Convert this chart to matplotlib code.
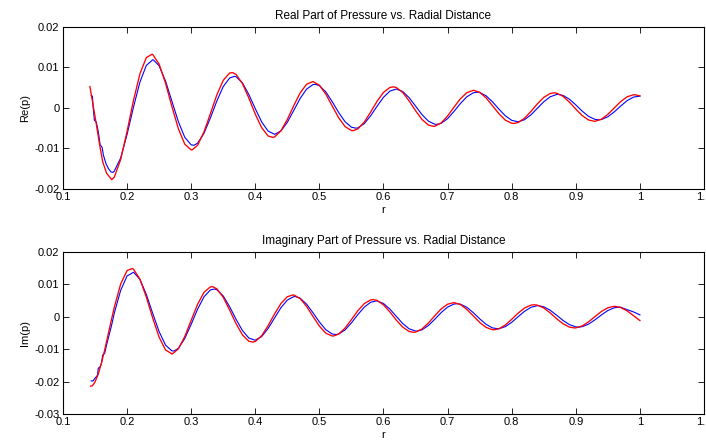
import matplotlib
matplotlib.use('Agg')
import matplotlib.pyplot as plt

plt.rcParams['font.family'] = ['Liberation Sans', 'DejaVu Sans']
plt.rcParams['axes.unicode_minus'] = False

# common radial grid used past the near field
r_grid = [0.18, 0.19, 0.20, 0.21, 0.22, 0.23, 0.24, 0.25, 0.26, 0.27,
          0.28, 0.29, 0.30, 0.31, 0.32, 0.33, 0.34, 0.35, 0.36, 0.37,
          0.38, 0.39, 0.40, 0.41, 0.42, 0.43, 0.44, 0.45, 0.46, 0.47,
          0.48, 0.49, 0.50, 0.51, 0.52, 0.53, 0.54, 0.55, 0.56, 0.57,
          0.58, 0.59, 0.60, 0.61, 0.62, 0.63, 0.64, 0.65, 0.66, 0.67,
          0.68, 0.69, 0.70, 0.71, 0.72, 0.73, 0.74, 0.75, 0.76, 0.77,
          0.78, 0.79, 0.80, 0.81, 0.82, 0.83, 0.84, 0.85, 0.86, 0.87,
          0.88, 0.89, 0.90, 0.91, 0.92, 0.93, 0.94, 0.95, 0.96, 0.97,
          0.98, 0.99, 1.00]

# exact solution (red)
r_exact_re = [0.142, 0.147, 0.152, 0.157, 0.162, 0.168, 0.176] + r_grid
re_exact = [0.0053, 0.0007, -0.0040, -0.0089, -0.0133, -0.0161, -0.0177,
            -0.01709, -0.01271, -0.00577, 0.00188, 0.00842, 0.01243, 0.01321, 0.01084, 0.00611, 0.00032,
            -0.00512, -0.00894, -0.01036, -0.00920, -0.00590, -0.00138, 0.00323, 0.00683, 0.00863, 0.00829,
            0.00601, 0.00244, -0.00152, -0.00489, -0.00691, -0.00716, -0.00565, -0.00282, 0.00058, 0.00372,
            0.00586, 0.00653, 0.00562, 0.00342, 0.00051, -0.00239, -0.00459, -0.00557, -0.00516, -0.00348,
            -0.00100, 0.00166, 0.00385, 0.00507, 0.00505, 0.00383, 0.00175, -0.00067, -0.00282, -0.00421,
            -0.00451, -0.00369, -0.00198, 0.00019, 0.00228, 0.00378, 0.00435, 0.00388, 0.00250, 0.00057,
            -0.00142, -0.00299, -0.00377, -0.00360, -0.00253, -0.00085, 0.00102, 0.00262, 0.00357, 0.00366,
            0.00289, 0.00145, -0.00028, -0.00188, -0.00297, -0.00328, -0.00277, -0.00157, 0.00001, 0.00158,
            0.00276, 0.00327, 0.00300]
# peaks and troughs of the exact real part
r_exact_re_pk = [0.239, 0.3017, 0.3645, 0.4272, 0.4900, 0.5527, 0.6154,
                 0.6782, 0.7409, 0.8037, 0.8664, 0.9292, 0.9919]
re_exact_pk = [0.01328, -0.01034, 0.00874, -0.00727, 0.00653, -0.00560, 0.00522,
               -0.00454, 0.00435, -0.00382, 0.00374, -0.00329, 0.00328]

r_exact_im = [0.143, 0.147, 0.150, 0.155, 0.160, 0.165, 0.170, 0.175] + r_grid
im_exact = [-0.0214, -0.0210, -0.0201, -0.0177, -0.0143, -0.0103, -0.0059, -0.0014,
            0.00289, 0.01012, 0.01427, 0.01469, 0.01162, 0.00610, -0.00041, -0.00630, -0.01024, -0.01147,
            -0.00990, -0.00610, -0.00109, 0.00385, 0.00756, 0.00925, 0.00864, 0.00600, 0.00208, -0.00213,
            -0.00560, -0.00756, -0.00761, -0.00584, -0.00274, 0.00086, 0.00410, 0.00620, 0.00673, 0.00562,
            0.00320, 0.00011, -0.00288, -0.00506, -0.00594, -0.00535, -0.00350, -0.00087, 0.00188, 0.00407,
            0.00521, 0.00505, 0.00368, 0.00147, -0.00103, -0.00320, -0.00453, -0.00472, -0.00377, -0.00193,
            0.00032, 0.00243, 0.00389, 0.00437, 0.00377, 0.00228, 0.00028, -0.00174, -0.00328, -0.00399,
            -0.00371, -0.00254, -0.00078, 0.00112, 0.00271, 0.00360, 0.00359, 0.00272, 0.00121, -0.00057,
            -0.00216, -0.00319, -0.00343, -0.00283, -0.00155, 0.00007, 0.00165, 0.00279, 0.00323, 0.00287,
            0.00183, 0.00036, -0.00117]
r_exact_im_pk = [0.1453, 0.208, 0.2707, 0.3335, 0.3962, 0.4590, 0.5217, 0.5844,
                 0.6472, 0.7099, 0.7727, 0.8354, 0.8982, 0.9609]
im_exact_pk = [-0.02134, 0.01490, -0.01145, 0.00930, -0.00782, 0.00675, -0.00594, 0.00530,
               -0.00479, 0.00437, -0.00401, 0.00371, -0.00345, 0.00323]

# finite element result (blue)
r_fem_re = [0.144, 0.146, 0.147, 0.149, 0.152, 0.155, 0.158, 0.161, 0.163, 0.167, 0.171, 0.175] + r_grid
re_fem = [0.0031, 0.0029, 0.0003, -0.0030, -0.0035, -0.0058, -0.0091, -0.0097, -0.0116, -0.0137, -0.0150, -0.0158,
          -0.0156, -0.01234, -0.00655, 0.00023, 0.00636, 0.01051, 0.01189, 0.01041, 0.00665, 0.00163,
          -0.00339, -0.00724, -0.00911, -0.00870, -0.00625, -0.00245, 0.00172, 0.00528, 0.00741, 0.00771,
          0.00619, 0.00331, -0.00018, -0.00345, -0.00571, -0.00649, -0.00567, -0.00353, -0.00061, 0.00235,
          0.00465, 0.00578, 0.00551, 0.00397, 0.00156, -0.00110, -0.00338, -0.00475, -0.00491, -0.00387,
          -0.00192, 0.00044, 0.00264, 0.00417, 0.00467, 0.00407, 0.00254, 0.00047, -0.00162, -0.00324,
          -0.00401, -0.00378, -0.00263, -0.00085, 0.00110, 0.00276, 0.00374, 0.00382, 0.00301, 0.00152,
          -0.00027, -0.00192, -0.00305, -0.00340, -0.00290, -0.00169, -0.00008, 0.00153, 0.00276, 0.00333,
          0.00311, 0.00217, 0.00076, -0.00078, -0.00208, -0.00282, -0.00285, -0.00217, -0.00096, 0.00048,
          0.00181, 0.00269, 0.00293]
r_fem_re_pk = [0.178, 0.2414, 0.3044, 0.3676, 0.4307, 0.4939, 0.5570,
               0.6201, 0.6832, 0.7463, 0.8095, 0.8726, 0.9358]
re_fem_pk = [-0.01590, 0.01184, -0.00921, 0.00781, -0.00648, 0.00584, -0.00499,
             0.00467, -0.00405, 0.00390, -0.00340, 0.00335, -0.00293]

r_fem_im = [0.144, 0.147, 0.149, 0.152, 0.154, 0.155, 0.158, 0.160, 0.162, 0.165, 0.168, 0.172, 0.176] + r_grid
im_fem = [-0.0198, -0.0198, -0.0192, -0.0185, -0.0180, -0.0159, -0.0154, -0.0144, -0.0118, -0.0113, -0.0087, -0.0056, -0.0025,
          0.00110, 0.00815, 0.01260, 0.01373, 0.01157, 0.00692, 0.00104, -0.00460, -0.00874, -0.01053,
          -0.00973, -0.00670, -0.00231, 0.00235, 0.00616, 0.00829, 0.00835, 0.00643, 0.00311, -0.00077,
          -0.00426, -0.00657, -0.00721, -0.00610, -0.00361, -0.00038, 0.00280, 0.00517, 0.00621, 0.00573,
          0.00391, 0.00124, -0.00162, -0.00399, -0.00531, -0.00532, -0.00407, -0.00188, 0.00067, 0.00297,
          0.00449, 0.00488, 0.00410, 0.00236, 0.00012, -0.00208, -0.00372, -0.00441, -0.00403, -0.00270,
          -0.00077, 0.00130, 0.00299, 0.00393, 0.00389, 0.00293, 0.00129, -0.00062, -0.00232, -0.00343,
          -0.00368, -0.00305, -0.00171, 0.00002, 0.00169, 0.00292, 0.00342, 0.00309, 0.00202, 0.00050,
          -0.00111, -0.00242, -0.00312, -0.00305, -0.00226, -0.00093, 0.00058, 0.00193, 0.00278, 0.00295,
          0.00220, 0.00150, 0.00060]
r_fem_im_pk = [0.2102, 0.2733, 0.3364, 0.3995, 0.4627, 0.5258, 0.5889,
               0.6520, 0.7151, 0.7783, 0.8414, 0.9046, 0.9677]
im_fem_pk = [0.01372, -0.01055, 0.00857, -0.00722, 0.00623, -0.00548, 0.00490,
             -0.00442, 0.00403, -0.00370, 0.00343, -0.00319, 0.00298]

x_ticks = [0.1, 0.2, 0.3, 0.4, 0.5, 0.6, 0.7, 0.8, 0.9, 1.0, 1.1]
x_tick_labels = ['0.1', '0.2', '0.3', '0.4', '0.5', '0.6', '0.7', '0.8', '0.9', '1', '1.1']
re_ticks = [-0.02, -0.01, 0, 0.01, 0.02]
re_tick_labels = ['-0.02', '-0.01', '0', '0.01', '0.02']
im_ticks = [-0.03, -0.02, -0.01, 0, 0.01, 0.02]
im_tick_labels = ['-0.03', '-0.02', '-0.01', '0', '0.01', '0.02']


def merge(r, v, r_pk, v_pk):
    # sample points plus the extrema, in order of r
    pts = sorted(zip(r + r_pk, v + v_pk))
    return [p[0] for p in pts], [p[1] for p in pts]


def style_axes(ax, yticks, ylabels, ylim, title, ylabel):
    ax.set_xlim(0.1, 1.1)
    ax.set_ylim(*ylim)
    ax.set_xticks(x_ticks)
    ax.set_xticklabels(x_tick_labels)
    ax.set_yticks(yticks)
    ax.set_yticklabels(ylabels)
    ax.tick_params(direction='in', top=True, right=True, length=4, width=0.6,
                   labelsize=8, pad=2.5, colors='black')
    for s in ax.spines.values():
        s.set_linewidth(0.8)
    ax.set_title(title, fontsize=8.5, pad=6)
    ax.set_xlabel('r', fontsize=8, labelpad=1.5)
    ax.set_ylabel(ylabel, fontsize=8, labelpad=3)


fig = plt.figure(figsize=(7.06, 4.43), dpi=100)

ax1 = fig.add_axes([0.0892, 0.5734, 0.908, 0.3657])
ax1.plot(*merge(r_fem_re, re_fem, r_fem_re_pk, re_fem_pk), color='#0000ff', lw=0.8)
ax1.plot(*merge(r_exact_re, re_exact, r_exact_re_pk, re_exact_pk), color='#ff0000', lw=0.95)
style_axes(ax1, re_ticks, re_tick_labels, (-0.02, 0.02),
           'Real Part of Pressure vs. Radial Distance', 'Re(p)')

ax2 = fig.add_axes([0.0892, 0.0655, 0.908, 0.3657])
ax2.plot(*merge(r_fem_im, im_fem, r_fem_im_pk, im_fem_pk), color='#0000ff', lw=0.8)
ax2.plot(*merge(r_exact_im, im_exact, r_exact_im_pk, im_exact_pk), color='#ff0000', lw=0.95)
style_axes(ax2, im_ticks, im_tick_labels, (-0.03, 0.02),
           'Imaginary Part of Pressure vs. Radial Distance', 'Im(p)')

fig.savefig('out.png', dpi=100)
